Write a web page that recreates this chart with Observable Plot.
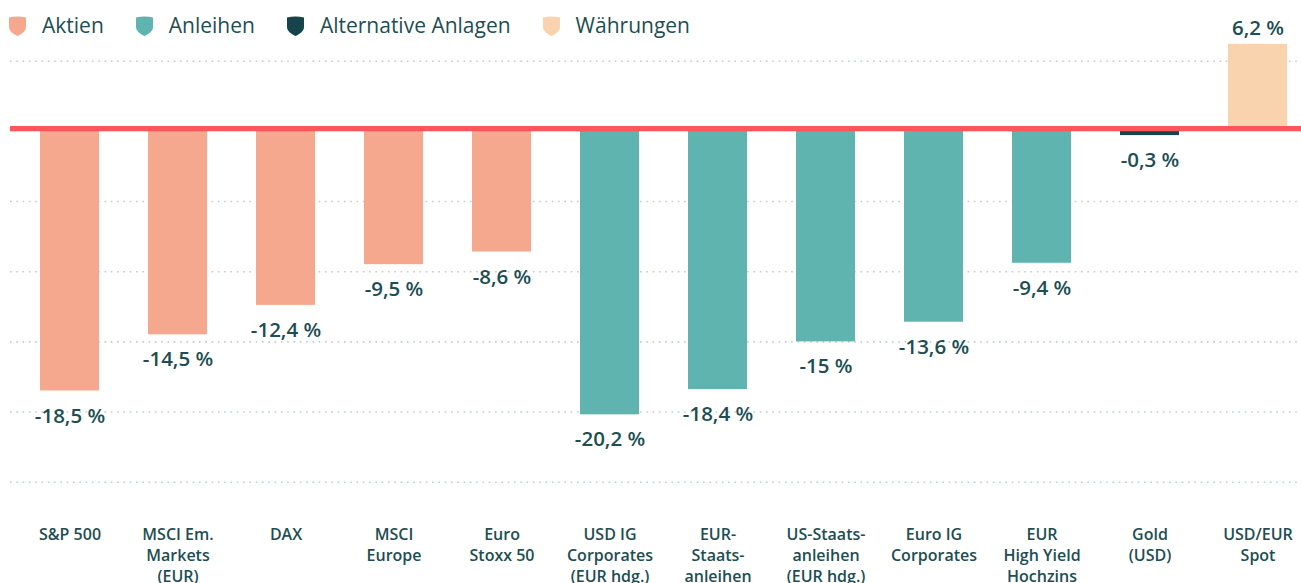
<!DOCTYPE html>
<html><head><meta charset="utf-8">
<script src="https://cdn.jsdelivr.net/npm/d3@7"></script>
<script src="https://cdn.jsdelivr.net/npm/@observablehq/plot@0.6"></script>
<style>
html,body{margin:0;padding:0;background:#fff;overflow:hidden}
#wrap{position:relative;width:1301px;height:583px}
#legend{position:absolute;top:13px;left:9px;display:flex;align-items:center;font-family:"Open Sans",sans-serif;font-size:21px;color:#1d4e53;z-index:2;line-height:25px}
#legend .item{display:flex;align-items:center;margin-right:32px}
#legend svg{margin-right:16px}
</style>
</head><body>
<div id="wrap"><div id="legend"></div><div id="chart"></div></div>
<script>
const categories = ["S&P 500","MSCI Em. Markets (EUR)","DAX","MSCI Europe","Euro Stoxx 50","USD IG Corporates (EUR hdg.)","EUR-Staatsanleihen","US-Staatsanleihen (EUR hdg.)","Euro IG Corporates","EUR High Yield Hochzins","Gold (USD)","USD/EUR Spot"];
const tickLabels = ["S&P 500","MSCI Em.\nMarkets\n(EUR)","DAX","MSCI\nEurope","Euro\nStoxx 50","USD IG\nCorporates\n(EUR hdg.)","EUR-\nStaats-\nanleihen","US-Staats-\nanleihen\n(EUR hdg.)","Euro IG\nCorporates","EUR\nHigh Yield\nHochzins","Gold\n(USD)","USD/EUR\nSpot"];
const values = [-18.5,-14.5,-12.4,-9.5,-8.6,-20.2,-18.4,-15,-13.6,-9.4,-0.3,6.2];
const groups = ["Aktien","Aktien","Aktien","Aktien","Aktien","Anleihen","Anleihen","Anleihen","Anleihen","Anleihen","Alternative Anlagen","Währungen"];
const groupNames = ["Aktien","Anleihen","Alternative Anlagen","Währungen"];
const groupColors = ["#f6a88e","#5fb4b0","#15444a","#f9d3ae"];
const gridValues = [5,-5,-10,-15,-20,-25];

const data = categories.map((c,i)=>({cat:c, value:values[i], group:groups[i], label:String(values[i]).replace(".",",")+" %"}));
const textColor = "#1d4e53";

const chart = Plot.plot({
  width: 1301, height: 583,
  marginLeft: 10, marginRight: 0, marginTop: 0, marginBottom: 70,
  style: {fontFamily: "'Open Sans', sans-serif", background: "transparent", overflow: "visible"},
  x: {domain: categories, range: [13.2, 1312.4], paddingInner: 0.458, paddingOuter: 0.229},
  y: {domain: [-25, 5], range: [481.7, 60.7], axis: null},
  color: {domain: groupNames, range: groupColors},
  marks: [
    Plot.ruleY(gridValues, {stroke: "#bccfcf", strokeWidth: 1.6, strokeDasharray: "1.6,4.7"}),
    Plot.barY(data, {x: "cat", y: "value", fill: "group"}),
    Plot.ruleY([0], {stroke: "#ff565e", strokeWidth: 5.4, dy: -2.7}),
    Plot.text(data.filter(d=>d.value<0), {x: "cat", y: "value", text: "label", dy: 25, fontSize: 20.5, fontWeight: 600, fill: textColor}),
    Plot.text(data.filter(d=>d.value>=0), {x: "cat", y: "value", text: "label", dy: -16, fontSize: 20.5, fontWeight: 600, fill: textColor}),
    Plot.axisX({tickSize: 0, tickPadding: 11, fontSize: 16, fontWeight: 600, lineHeight: 1.32, fill: textColor, label: null,
      tickFormat: d => tickLabels[categories.indexOf(d)]})
  ]
});
document.getElementById("chart").appendChild(chart);

const legend = document.getElementById("legend");
groupNames.forEach((g,i)=>{
  const item = document.createElement("div");
  item.className = "item";
  item.innerHTML = `<svg width="17" height="20" viewBox="0 0 17 20"><path d="M0 1.5 Q8.5 -0.5 17 1.5 V11 C17 15 13 18 8.5 20 C4 18 0 15 0 11 Z" fill="${groupColors[i]}"/></svg><span>${g}</span>`;
  legend.appendChild(item);
});
</script>
</body></html>
